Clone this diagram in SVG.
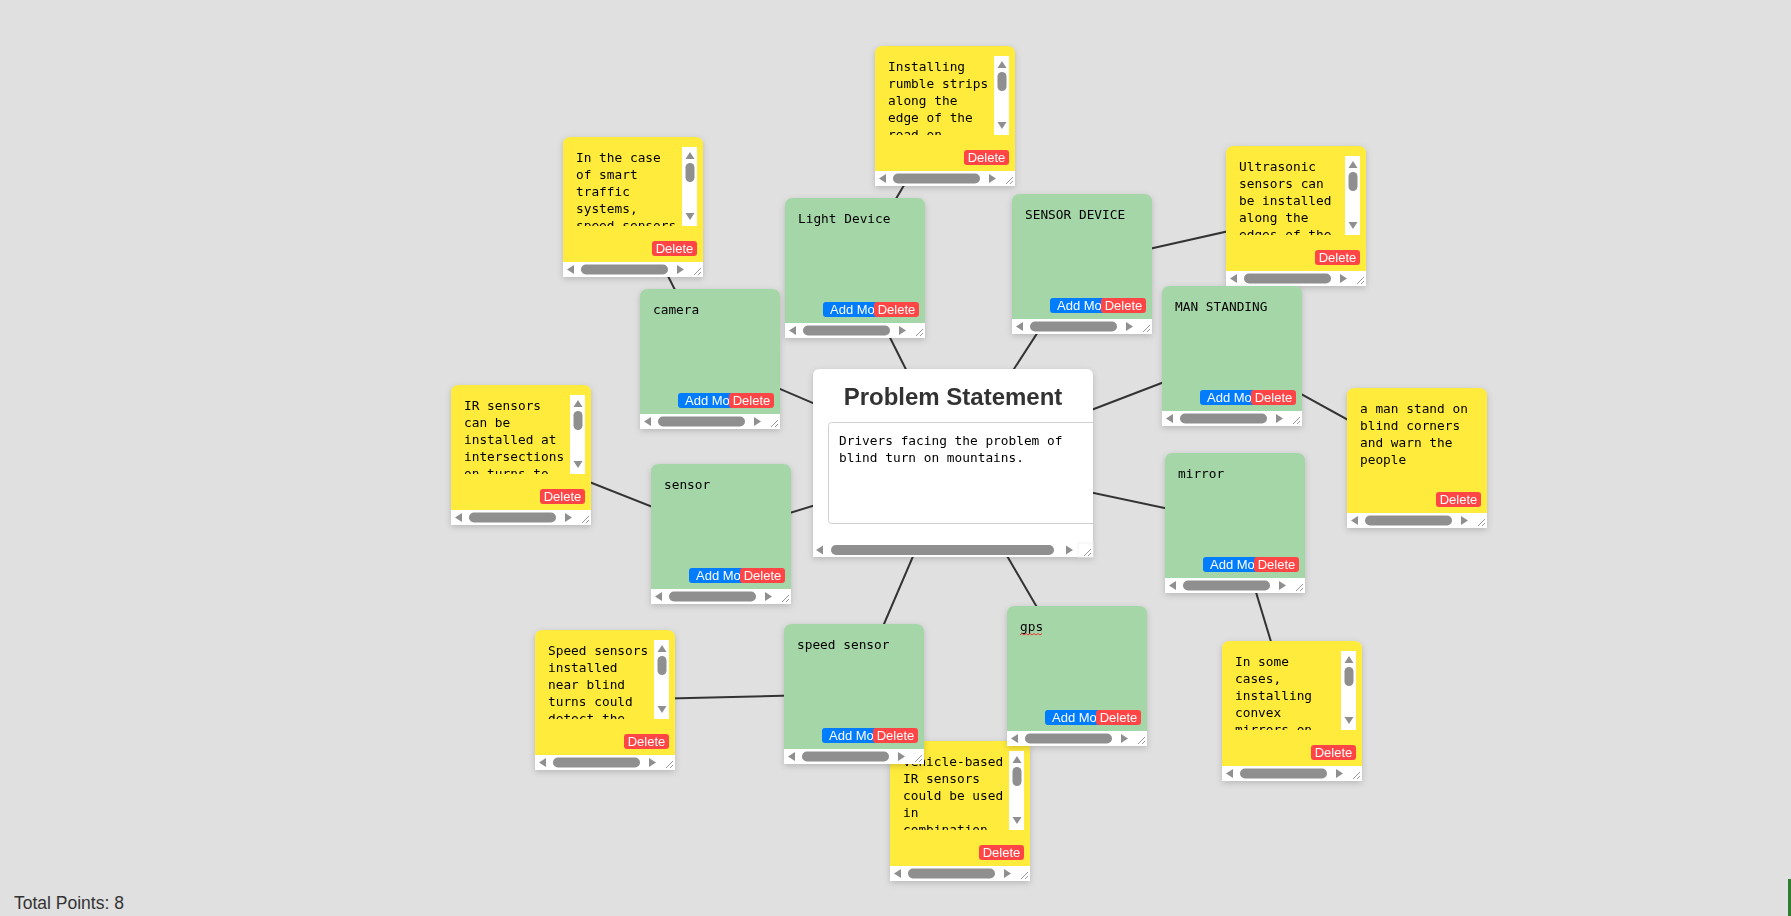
<svg xmlns="http://www.w3.org/2000/svg" xmlns:xlink="http://www.w3.org/1999/xlink" width="1791" height="916" viewBox="0 0 1791 916">
<style>
.edge{stroke:#333;stroke-width:2;fill:none}
.green{fill:#a5d6a7}
.yellow{fill:#ffeb3b}
.mono{font-family:"DejaVu Sans Mono","Liberation Mono",monospace;font-size:12.8px;fill:#000}
.btn{font-family:"Liberation Sans",Arial,sans-serif;font-size:13px;fill:#fff}
.blue{fill:#007bff}
.red{fill:#ff4545}
.track{fill:#fff}
.arrow{fill:#8f8f8f}
.thumb{fill:#8f8f8f}
.grip{stroke:#999;stroke-width:1}
.title{font-family:"Liberation Sans",Arial,sans-serif;font-size:24px;font-weight:bold;fill:#333}
.total{font-family:"Liberation Sans",Arial,sans-serif;font-size:17.5px;fill:#333}
</style>
<defs>
<filter id="sh" x="-10%" y="-10%" width="120%" height="125%">
<feDropShadow dx="0" dy="2" stdDeviation="3" flood-color="#000" flood-opacity="0.18"/>
</filter>
<clipPath id="ta"><rect x="0" y="10" width="119" height="79"/></clipPath>
<clipPath id="cclip"><rect x="0" y="0" width="280" height="188"/></clipPath>
<path id="card" d="M0,8 Q0,0 8,0 H132 Q140,0 140,8 V140 H0 Z"/>
<g id="hbar">
<rect class="track" x="0" y="0" width="125" height="15"/>
<polygon class="arrow" points="4,7.5 11,3 11,12"/>
<rect class="thumb" x="18" y="2.5" width="87" height="10" rx="5"/>
<polygon class="arrow" points="121,7.5 114,3 114,12"/>
<rect fill="#fff" x="125" y="0" width="15" height="15"/>
<line class="grip" x1="138" y1="6" x2="131" y2="13"/>
<line class="grip" x1="138" y1="10" x2="135" y2="13"/>
</g>
<g id="vbar">
<rect class="track" x="119" y="10" width="15" height="79"/>
<polygon class="arrow" points="127,15 122.5,22 131.5,22"/>
<rect class="thumb" x="122.5" y="26" width="9" height="19" rx="4.5"/>
<polygon class="arrow" points="122.5,76 131.5,76 127,83"/>
</g>
<g id="del">
<rect class="red" x="89" y="104" width="45" height="15" rx="3"/>
<text class="btn" x="111.5" y="116.3" text-anchor="middle">Delete</text>
</g>
<g id="gbtns">
<rect class="blue" x="38" y="104" width="62" height="15" rx="3"/>
<text class="btn" x="45" y="116.3">Add More</text>
<use href="#del"/>
</g>
</defs>

<rect x="0" y="0" width="1791" height="916" fill="#e0e0e0"/>

<g id="connectors">
<line class="edge" x1="953" y1="463" x2="855" y2="268"/>
<line class="edge" x1="953" y1="463" x2="1082" y2="264"/>
<line class="edge" x1="953" y1="463" x2="710" y2="359"/>
<line class="edge" x1="953" y1="463" x2="1232" y2="356"/>
<line class="edge" x1="953" y1="463" x2="721" y2="534"/>
<line class="edge" x1="953" y1="463" x2="1235" y2="523"/>
<line class="edge" x1="953" y1="463" x2="854" y2="694"/>
<line class="edge" x1="953" y1="463" x2="1077" y2="676"/>
<line class="edge" x1="855" y1="268" x2="945" y2="116"/>
<line class="edge" x1="710" y1="359" x2="633" y2="207"/>
<line class="edge" x1="1082" y1="264" x2="1296" y2="216"/>
<line class="edge" x1="1232" y1="356" x2="1417" y2="458"/>
<line class="edge" x1="721" y1="534" x2="521" y2="455"/>
<line class="edge" x1="1235" y1="523" x2="1292" y2="711"/>
<line class="edge" x1="854" y1="694" x2="605" y2="700"/>
<line class="edge" x1="1077" y1="676" x2="960" y2="811"/>
</g>

<g id="n-problem" transform="translate(813,369)" filter="url(#sh)">
<path d="M0,7 Q0,0 7,0 H273 Q280,0 280,7 V188 H0 Z" fill="#fff"/>
<text class="title" x="140" y="36" text-anchor="middle">Problem Statement</text>
<g clip-path="url(#cclip)">
<rect x="15.5" y="53.5" width="290" height="101" rx="3" fill="#fff" stroke="#d0d0d0"/>
</g>
<text class="mono" x="26" y="76">Drivers facing the problem of</text>
<text class="mono" x="26" y="93">blind turn on mountains.</text>
<rect class="track" x="0" y="174" width="265" height="14"/>
<polygon class="arrow" points="3,181 10,176.5 10,185.5"/>
<rect class="thumb" x="18" y="176" width="223" height="10" rx="5"/>
<polygon class="arrow" points="260,181 253,176.5 253,185.5"/>
<rect fill="#fff" x="265" y="174" width="15" height="14" stroke="#e6e6e6" stroke-width="0.5"/>
<line class="grip" x1="278" y1="180" x2="271" y2="187"/>
<line class="grip" x1="278" y1="184" x2="275" y2="187"/>
</g>

<g id="n-rumble" transform="translate(875,46)" filter="url(#sh)">
<use href="#card" class="yellow"/>
<text class="mono" clip-path="url(#ta)"><tspan x="13" y="25">Installing</tspan><tspan x="13" y="42">rumble strips</tspan><tspan x="13" y="59">along the</tspan><tspan x="13" y="76">edge of the</tspan><tspan x="13" y="93">road on</tspan></text>
<use href="#vbar"/><use href="#del"/><use href="#hbar" y="125"/>
</g>

<g id="n-smart" transform="translate(563,137)" filter="url(#sh)">
<use href="#card" class="yellow"/>
<text class="mono" clip-path="url(#ta)"><tspan x="13" y="25">In the case</tspan><tspan x="13" y="42">of smart</tspan><tspan x="13" y="59">traffic</tspan><tspan x="13" y="76">systems,</tspan><tspan x="13" y="93">speed sensors</tspan></text>
<use href="#vbar"/><use href="#del"/><use href="#hbar" y="125"/>
</g>

<g id="n-ultrasonic" transform="translate(1226,146)" filter="url(#sh)">
<use href="#card" class="yellow"/>
<text class="mono" clip-path="url(#ta)"><tspan x="13" y="25">Ultrasonic</tspan><tspan x="13" y="42">sensors can</tspan><tspan x="13" y="59">be installed</tspan><tspan x="13" y="76">along the</tspan><tspan x="13" y="93">edges of the</tspan></text>
<use href="#vbar"/><use href="#del"/><use href="#hbar" y="125"/>
</g>

<g id="n-manstand" transform="translate(1347,388)" filter="url(#sh)">
<use href="#card" class="yellow"/>
<text class="mono"><tspan x="13" y="25">a man stand on</tspan><tspan x="13" y="42">blind corners</tspan><tspan x="13" y="59">and warn the</tspan><tspan x="13" y="76">people</tspan></text>
<use href="#del"/><use href="#hbar" y="125"/>
</g>

<g id="n-ir" transform="translate(451,385)" filter="url(#sh)">
<use href="#card" class="yellow"/>
<text class="mono" clip-path="url(#ta)"><tspan x="13" y="25">IR sensors</tspan><tspan x="13" y="42">can be</tspan><tspan x="13" y="59">installed at</tspan><tspan x="13" y="76">intersections</tspan><tspan x="13" y="93">on turns to</tspan></text>
<use href="#vbar"/><use href="#del"/><use href="#hbar" y="125"/>
</g>

<g id="n-speedinst" transform="translate(535,630)" filter="url(#sh)">
<use href="#card" class="yellow"/>
<text class="mono" clip-path="url(#ta)"><tspan x="13" y="25">Speed sensors</tspan><tspan x="13" y="42">installed</tspan><tspan x="13" y="59">near blind</tspan><tspan x="13" y="76">turns could</tspan><tspan x="13" y="93">detect the</tspan></text>
<use href="#vbar"/><use href="#del"/><use href="#hbar" y="125"/>
</g>

<g id="n-vehicle" transform="translate(890,741)" filter="url(#sh)">
<use href="#card" class="yellow"/>
<text class="mono" clip-path="url(#ta)"><tspan x="13" y="25">vehicle-based</tspan><tspan x="13" y="42">IR sensors</tspan><tspan x="13" y="59">could be used</tspan><tspan x="13" y="76">in</tspan><tspan x="13" y="93">combination</tspan></text>
<use href="#vbar"/><use href="#del"/><use href="#hbar" y="125"/>
</g>

<g id="n-convex" transform="translate(1222,641)" filter="url(#sh)">
<use href="#card" class="yellow"/>
<text class="mono" clip-path="url(#ta)"><tspan x="13" y="25">In some</tspan><tspan x="13" y="42">cases,</tspan><tspan x="13" y="59">installing</tspan><tspan x="13" y="76">convex</tspan><tspan x="13" y="93">mirrors on</tspan></text>
<use href="#vbar"/><use href="#del"/><use href="#hbar" y="125"/>
</g>

<g id="n-light" transform="translate(785,198)" filter="url(#sh)">
<use href="#card" class="green"/>
<text class="mono" x="13" y="25">Light Device</text>
<use href="#gbtns"/><use href="#hbar" y="125"/>
</g>

<g id="n-sensordevice" transform="translate(1012,194)" filter="url(#sh)">
<use href="#card" class="green"/>
<text class="mono" x="13" y="25">SENSOR DEVICE</text>
<use href="#gbtns"/><use href="#hbar" y="125"/>
</g>

<g id="n-camera" transform="translate(640,289)" filter="url(#sh)">
<use href="#card" class="green"/>
<text class="mono" x="13" y="25">camera</text>
<use href="#gbtns"/><use href="#hbar" y="125"/>
</g>

<g id="n-manstanding" transform="translate(1162,286)" filter="url(#sh)">
<use href="#card" class="green"/>
<text class="mono" x="13" y="25">MAN STANDING</text>
<use href="#gbtns"/><use href="#hbar" y="125"/>
</g>

<g id="n-sensor" transform="translate(651,464)" filter="url(#sh)">
<use href="#card" class="green"/>
<text class="mono" x="13" y="25">sensor</text>
<use href="#gbtns"/><use href="#hbar" y="125"/>
</g>

<g id="n-mirror" transform="translate(1165,453)" filter="url(#sh)">
<use href="#card" class="green"/>
<text class="mono" x="13" y="25">mirror</text>
<use href="#gbtns"/><use href="#hbar" y="125"/>
</g>

<g id="n-speedsensor" transform="translate(784,624)" filter="url(#sh)">
<use href="#card" class="green"/>
<text class="mono" x="13" y="25">speed sensor</text>
<use href="#gbtns"/><use href="#hbar" y="125"/>
</g>

<g id="n-gps" transform="translate(1007,606)" filter="url(#sh)">
<use href="#card" class="green"/>
<text class="mono" x="13" y="25">gps</text>
<path d="M13,29 l2,-1.5 l2,1.5 l2,-1.5 l2,1.5 l2,-1.5 l2,1.5 l2,-1.5 l2,1.5 l2,-1.5 l2,1.5 l2,-1.5" fill="none" stroke="#e53935" stroke-width="1"/>
<use href="#gbtns"/><use href="#hbar" y="125"/>
</g>

<text class="total" x="14" y="909">Total Points: 8</text>
<rect x="1788" y="879" width="3" height="37" fill="#2e7d32"/>
</svg>
